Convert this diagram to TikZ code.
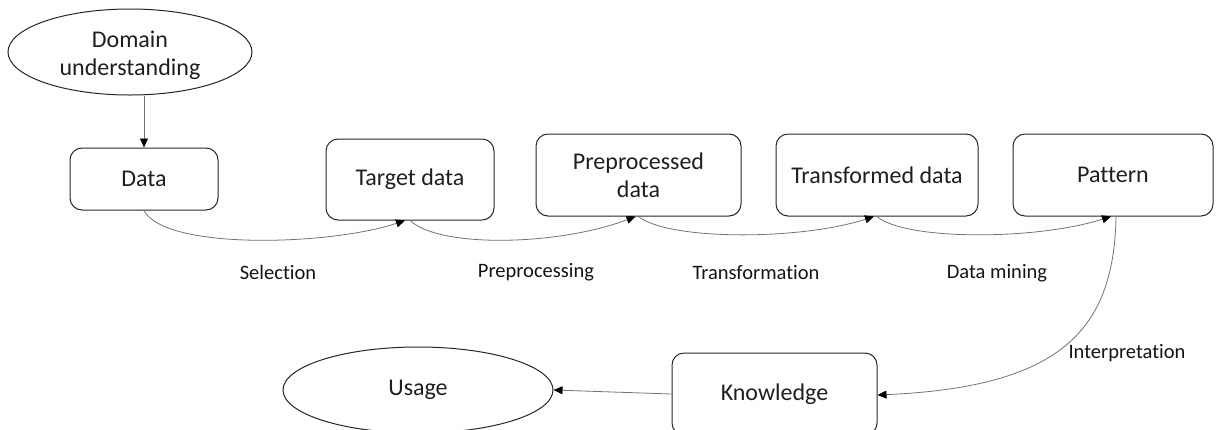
\documentclass[tikz,border=0pt]{standalone}
\usepackage{fontspec}
\setmainfont{Carlito}[Ligatures=NoCommon]
\usetikzlibrary{shapes.geometric,arrows.meta}
\tikzset{
  box/.style={draw=black!85, line width=1pt, rounded corners=12pt, inner sep=0pt, align=center, text=black!88, font=\fontsize{24}{28}\selectfont},
  oval/.style={draw=black!85, line width=1pt, ellipse, inner sep=0pt, align=center, text=black!88, font=\fontsize{24}{28}\selectfont},
  lbl/.style={inner sep=0pt, text=black!92, font=\fontsize{20.5}{24}\selectfont},
  conn/.style={draw=black!55, line width=0.8pt, -{Triangle[length=9pt,width=8pt,black]}}
}
\begin{document}
\begin{tikzpicture}[x=1pt,y=-1pt]
\useasboundingbox (0,0) rectangle (1222,429);
\node[oval, minimum width=244pt, minimum height=86pt] (dom) at (130,52) {\rule{0pt}{24pt}Domain\\understanding};
\node[box, minimum width=148pt, minimum height=62pt] (data) at (144,179) {Data};
\node[box, minimum width=168pt, minimum height=81pt] (target) at (410,179.5) {Target data};
\node[box, minimum width=205pt, minimum height=82pt] (prep) at (638.5,175) {Preprocessed\\data};
\node[box, minimum width=202pt, minimum height=82pt] (trans) at (877,175) {Transformed data};
\node[box, minimum width=200pt, minimum height=82pt] (pat) at (1113,175) {Pattern};
\node[box, minimum width=205pt, minimum height=82pt] (know) at (774.5,394) {Knowledge};
\node[oval, minimum width=270pt, minimum height=86pt] (use) at (418,390) {Usage};

\node[lbl] (l1) at (278,272) {Selection};
\node[lbl] (l2) at (536,272) {Preprocessing};
\node[lbl] (l3) at (756,273) {Transformation};
\node[lbl] (l4) at (997,273) {Data mining};
\node[lbl] (l5) at (1127,353) {Interpretation};

\draw[conn] (dom.south -| data.north) -- (data.north);
\draw[conn] (data.south) .. controls +(21,40) and +(-75,25) .. ([xshift=-5pt]target.south);
\draw[conn] (target.south) .. controls +(30,28) and +(-76,29) .. ([xshift=-3pt]prep.south);
\draw[conn] (prep.south) .. controls +(30,24) and +(-74,24) .. ([xshift=-3pt]trans.south);
\draw[conn] (trans.south) .. controls +(28,24) and +(-76,24) .. ([xshift=-2pt]pat.south);
\draw[conn] ([xshift=3pt]pat.south) .. controls +(-2,114) and +(183,-8) .. ([yshift=-1pt]know.east);
\draw[conn] (know.west) -- (use.east);
\end{tikzpicture}
\end{document}
